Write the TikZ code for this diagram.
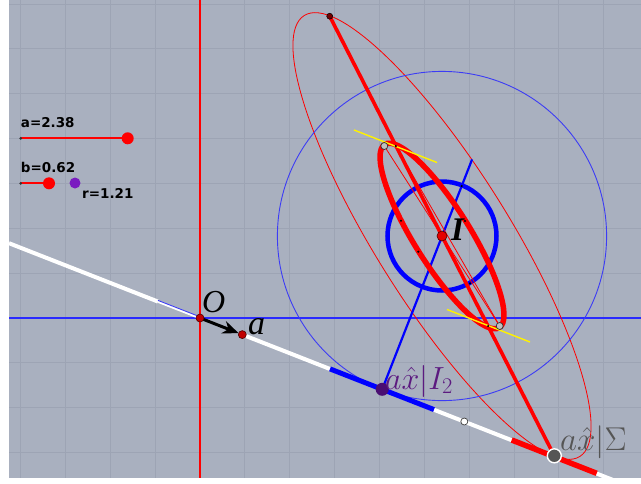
\RequirePackage{fix-cm}
\documentclass[tikz,border=0pt]{standalone}
\usepackage{fontspec}
\newfontfamily\sansf{DejaVu Sans}
\newfontfamily\seriff{Liberation Serif}
\usetikzlibrary{arrows.meta}
\definecolor{bgc}{HTML}{A9B0BF}
\definecolor{gridc}{HTML}{9DA4B4}
\definecolor{axblue}{HTML}{2A2AFF}
\definecolor{thinblue}{HTML}{3C3CF5}
\definecolor{ptred}{HTML}{C00000}
\definecolor{ptdark}{HTML}{500000}
\definecolor{purpdot}{HTML}{4A0E72}
\definecolor{purplab}{HTML}{5C1A80}
\definecolor{sliderpurp}{HTML}{7A1CC0}
\definecolor{graylab}{HTML}{555555}
\tikzset{
  thinred/.style={draw=red, line width=0.8pt},
  thickred/.style={draw=red, line width=5.5pt},
  ptdot/.style={circle, fill=ptred, draw=ptdark, line width=0.6pt, inner sep=0pt, minimum size=8pt},
  tinydot/.style={circle, fill=black, inner sep=0pt, minimum size=2.4pt},
  opendot/.style={circle, fill=black!25, draw=black!80, line width=0.7pt, inner sep=0pt, minimum size=7pt},
  knob/.style={circle, fill=red, inner sep=0pt, minimum size=12pt},
  slidertxt/.style={anchor=base west, inner sep=0pt, font=\sansf\bfseries\fontsize{13.5}{13.5}\selectfont},
}
\begin{document}
\begin{tikzpicture}[x=1pt,y=1pt,yscale=-1]
\useasboundingbox (0,0) rectangle (641,483);
\fill[white] (0,0) rectangle (641,483);
\fill[bgc] (9,0) rectangle (641,478);
% key points
\coordinate (O) at (200,318);
\coordinate (A) at (242.3,334.6);
\coordinate (I) at (442,236);
\coordinate (P1) at (329.7,16.2);
\coordinate (P2) at (554.3,455.8);
\coordinate (T1) at (384.3,146);
\coordinate (T2) at (499.7,326);
\coordinate (D1) at (395.8,146);
\coordinate (D7) at (488.2,326);
\coordinate (Q) at (382.2,389.3);
\coordinate (BE) at (472.1,159.4);
\coordinate (Wl) at (9,243.2);
\coordinate (Wm) at (158,301.6);
\coordinate (We) at (620,482.7);
\coordinate (B1) at (330,368.9);
\coordinate (B2) at (434,409.6);
\coordinate (R1) at (511.7,440.0);
\coordinate (R2) at (596.7,473.3);
\coordinate (OC) at (464.3,421.5);
\coordinate (Y1a) at (354,130);
\coordinate (Y1b) at (437,162.5);
\coordinate (Y2a) at (447,309.5);
\coordinate (Y2b) at (530,342);
\begin{scope}
\clip (9,0) rectangle (641,478);
% grid
\foreach \k in {-4,...,9} \draw[gridc, line width=0.9pt] ({200+44.85*\k},0) -- ({200+44.85*\k},478);
\foreach \k in {-7,...,3} \draw[gridc, line width=0.9pt] (9,{318+44.85*\k}) -- (641,{318+44.85*\k});
% axes
\draw[red, line width=1.1pt] (200,0) -- (200,478);
\draw[axblue, line width=1.1pt] (9,318) -- (641,318);
% white line
\draw[white, line width=4pt] (Wl) -- (Wm);
\draw[white, line width=2.5pt] (Wm) -- (O);
\draw[thinblue, line width=0.9pt] ([yshift=-1.2pt]Wm) -- ([yshift=-1.2pt]O);
\draw[white, line width=4pt] (A) -- (We);
% big thin ellipse
\draw[thinred, rotate around={58:(I)}] (I) ellipse [x radius=260, y radius=67];
% big blue circle
\draw[thinblue, line width=0.9pt] (I) circle [radius=164.6];
% blue line
\draw[blue, line width=2.2pt] (Q) -- (BE);
% small blue circle
\draw[blue, line width=4.5pt] (I) circle [radius=54.5];
% thick ellipse
\draw[thickred, rotate around={58:(I)}] (I) ellipse [x radius=108, y radius=28];
% thin red lines inside
\draw[thinred] (T1) -- (T2);
\draw[thinred] (D1) -- (T2);
% thick red line
\draw[red, line width=3.6pt] (P1) -- (P2);
% yellow tangents
\draw[yellow, line width=1.4pt] (Y1a) -- (Y1b);
\draw[yellow, line width=1.4pt] (Y2a) -- (Y2b);
% segments on white line
\draw[blue, line width=5pt] (B1) -- (B2);
\draw[red, line width=5.5pt] (R1) -- (R2);
% vector a
\draw[black, line width=3pt, -{Stealth[length=16pt,width=13pt]}, shorten >=4pt] (O) -- (A);
\end{scope}
% tiny dots
\node[tinydot] (d1) at (D1) {};
\node[tinydot] (d7) at (D7) {};
\node[tinydot] (d2) at (401,220.7) {};
\node[tinydot] (d3) at (418.3,251.7) {};
\node[tinydot] (d4) at (461.7,186) {};
\node[tinydot] (d5) at (465,221) {};
\node[tinydot] (d6) at (470,283.3) {};
% points
\node[opendot] (t1) at (T1) {};
\node[opendot] (t2) at (T2) {};
\node[circle, fill=white, draw=black!75, line width=0.7pt, inner sep=0pt, minimum size=7pt] (oc) at (OC) {};
\node[circle, fill=purpdot, inner sep=0pt, minimum size=13pt] (q) at (Q) {};
\node[circle, fill=graylab, draw=white, line width=1.4pt, inner sep=0pt, minimum size=14pt] (p2) at (P2) {};
\node[circle, fill=ptdark!80!red, draw=black, line width=0.5pt, inner sep=0pt, minimum size=6pt] (p1) at (P1) {};
\node[ptdot] (o) at (O) {};
\node[ptdot] (a) at (A) {};
\node[circle, fill=red!90!black, draw=ptdark, line width=0.6pt, inner sep=0pt, minimum size=10pt] (i) at (I) {};
% labels
\node[anchor=base west, inner sep=0pt, font=\seriff\itshape\fontsize{32}{32}\selectfont] (lO) at (202,312.5) {O};
\node[anchor=base west, inner sep=0pt, font=\seriff\itshape\fontsize{34}{34}\selectfont] (la) at (248,334.3) {a};
\node[anchor=base west, inner sep=0pt, font=\seriff\bfseries\itshape\fontsize{33}{33}\selectfont] (lI) at (451,240) {I};
\node[anchor=base west, inner sep=0pt, text=purplab, font=\fontsize{32}{32}\selectfont] (lI2) at (385,389) {$a\hat{x}|I_2$};
\node[anchor=base west, inner sep=0pt, text=graylab, font=\fontsize{33}{33}\selectfont] (lS) at (560,450) {$a\hat{x}|\Sigma$};
% sliders
\node[slidertxt] (ta) at (20.7,127.8) {a=2.38};
\node[slidertxt] (tb) at (20.7,172) {b=0.62};
\node[slidertxt] (tr) at (82,198.5) {r=1.21};
\coordinate (sa0) at (20.7,138.3);
\coordinate (sa1) at (127.7,138.3);
\coordinate (sb0) at (20.7,183.3);
\coordinate (sb1) at (49,183.3);
\draw[red, line width=2pt] (sa0) -- (sa1);
\draw[red, line width=2pt] (sb0) -- (sb1);
\node[circle, fill=black!80, inner sep=0pt, minimum size=3pt] (sa0d) at (sa0) {};
\node[circle, fill=black!80, inner sep=0pt, minimum size=3pt] (sb0d) at (sb0) {};
\node[knob] (ka) at (sa1) {};
\node[knob] (kb) at (sb1) {};
\node[circle, fill=sliderpurp, inner sep=0pt, minimum size=11pt] (kr) at (75,183) {};
\end{tikzpicture}
\end{document}
